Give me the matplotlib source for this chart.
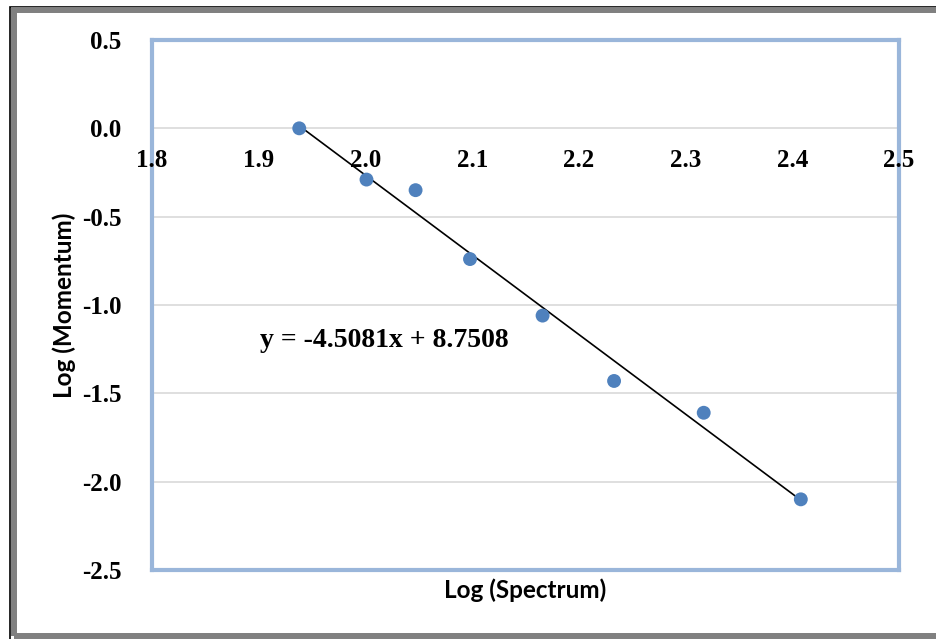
#!/usr/bin/env python
"""
Log-log plot of momentum vs spectrum, with a linear trendline.
"""

import numpy as np
import matplotlib.pyplot as plt
from matplotlib.patches import Rectangle

log_spectrum = [1.938, 2.001, 2.047, 2.098, 2.166, 2.233, 2.317, 2.408]
log_momentum = [0.0, -0.29, -0.35, -0.74, -1.06, -1.43, -1.61, -2.10]

# trendline as reported on the chart
slope = -4.5081
intercept = 8.7508

xticks = [1.8, 1.9, 2.0, 2.1, 2.2, 2.3, 2.4, 2.5]
yticks = [-2.5, -2.0, -1.5, -1.0, -0.5, 0.0, 0.5]

blue = "#4F81BD"
frame = "#9AB6DA"

W, H = 936, 639
fig = plt.figure(figsize=(W / 100, H / 100), dpi=100)
ax = fig.add_axes([152 / W, 1 - 570 / H, (899 - 152) / W, (570 - 40) / H])

# grey border (with a thin black outer line), cut off on the right like the original
fig.patches.append(Rectangle((10 / W, -0.05), 1.1, 1 - 6.5 / H + 0.05,
                             transform=fig.transFigure, fill=False,
                             edgecolor="black", lw=1.2, zorder=10))
fig.patches.append(Rectangle((13.5 / W, 3 / H), 1.1, 1 - 13 / H,
                             transform=fig.transFigure, fill=False,
                             edgecolor="#808080", lw=4.3, zorder=10))

ax.grid(axis="y", color="#d9d9d9", lw=1.2)
ax.set_axisbelow(True)

xfit = np.array([log_spectrum[0], log_spectrum[-1]])
ax.plot(xfit, slope * xfit + intercept, color="black", lw=1.2, zorder=2)
ax.scatter(log_spectrum, log_momentum, s=100, color=blue, zorder=3, edgecolors="none")

ax.set_xlim(1.8, 2.5)
ax.set_ylim(-2.5, 0.5)
ax.set_yticks(yticks)
ax.set_yticklabels(["%.1f" % v for v in yticks])
ax.set_xticks(xticks)
ax.set_xticklabels([])
ax.tick_params(length=0, pad=22)

tick_font = dict(family="Liberation Serif", weight="bold", size=18)
for lab in ax.get_yticklabels():
    lab.set(**tick_font)

# x tick labels sit just under the y=0 line, as Excel does when the axis crosses at zero
for v in xticks:
    ax.text(v, -0.18, "%.1f" % v, ha="center", va="center", **tick_font)

for side in ax.spines.values():
    side.set_color(frame)
    side.set_linewidth(3)

ax.text(1.901, -1.20, "y = -4.5081x + 8.7508", ha="left", va="center",
        family="Liberation Serif", weight="bold", size=20)

fig.text(525 / W, 1 - 590 / H, "Log (Spectrum)", ha="center", va="center",
         family="Lato", weight="bold", size=17.5)
fig.text(64 / W, 1 - 305 / H, "Log (Momentum)", ha="center", va="center",
         rotation=90, family="Lato", weight="bold", size=17.5)

fig.savefig("out.png", dpi=100)
